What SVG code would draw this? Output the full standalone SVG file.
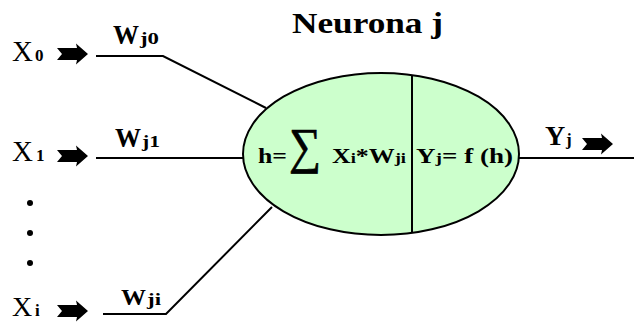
<svg xmlns="http://www.w3.org/2000/svg" width="634" height="324" viewBox="0 0 634 324">
<style>
.ln{fill:none;stroke:#000;stroke-width:2}
.b{font-weight:bold}
</style>
<defs>
<path id="arr" d="M0,-6 L20,-6 L19,-10.5 L31,0 L19,10.5 L20,6 L0,6 L5,0 Z"/>
</defs>
<rect width="634" height="324" fill="#fff"/>
<g font-family="Liberation Serif, Times New Roman, serif" fill="#000">
<g id="title"><text class="b" x="292" y="33" font-size="29" textLength="151" lengthAdjust="spacingAndGlyphs">Neurona j</text></g>
<g id="connectors">
<polyline class="ln" points="96,56 163,56 266,108"/>
<polyline class="ln" points="96,158 245,158"/>
<polyline class="ln" points="103,314 166,314 272,207"/>
<polyline class="ln" points="517,158 634,158"/>
</g>
<g id="input0">
<text x="12" y="61" font-size="29">X</text>
<text class="b" x="35" y="61" font-size="17">0</text>
<use href="#arr" x="57" y="54"/>
<text class="b" x="113" y="44" font-size="27" textLength="26" lengthAdjust="spacingAndGlyphs">W</text>
<text class="b" x="140" y="44" font-size="17" textLength="19" lengthAdjust="spacingAndGlyphs">j0</text>
</g>
<g id="input1">
<text x="12" y="161" font-size="29">X</text>
<text class="b" x="36" y="161" font-size="17">1</text>
<use href="#arr" x="57" y="156"/>
<text class="b" x="115" y="147" font-size="27" textLength="26" lengthAdjust="spacingAndGlyphs">W</text>
<text class="b" x="142" y="147" font-size="17" textLength="18" lengthAdjust="spacingAndGlyphs">j1</text>
</g>
<g id="dots">
<circle cx="30" cy="203" r="3"/>
<circle cx="30" cy="233" r="3"/>
<circle cx="30" cy="263" r="3"/>
</g>
<g id="inputi">
<text x="12" y="316" font-size="28">X</text>
<text class="b" x="35" y="316" font-size="17">i</text>
<use href="#arr" x="57" y="311"/>
<text class="b" x="121" y="305" font-size="24" textLength="25" lengthAdjust="spacingAndGlyphs">W</text>
<text class="b" x="147" y="305" font-size="16" textLength="14" lengthAdjust="spacingAndGlyphs">ji</text>
</g>
<g id="neuron">
<ellipse cx="381" cy="154" rx="138" ry="81" fill="#ccffcc" stroke="#000" stroke-width="2"/>
<line class="ln" x1="412" y1="75" x2="412" y2="233"/>
<text class="b" x="258" y="163" font-size="20" textLength="29" lengthAdjust="spacingAndGlyphs">h=</text>
<text x="289" y="163" font-size="50" stroke="#000" stroke-width="0.7" textLength="32" lengthAdjust="spacingAndGlyphs">∑</text>
<text class="b" x="332" y="163" font-size="21" textLength="74" lengthAdjust="spacingAndGlyphs">X<tspan font-size="15">i</tspan>*W<tspan font-size="15">ji</tspan></text>
<text class="b" x="416" y="163" font-size="21" textLength="97" lengthAdjust="spacingAndGlyphs">Y<tspan font-size="15">j</tspan>= f (h)</text>
</g>
<g id="output">
<text class="b" x="545" y="145" font-size="28">Y</text>
<text class="b" x="566" y="145" font-size="17">j</text>
<use href="#arr" x="582" y="144"/>
</g>
</g>
</svg>
